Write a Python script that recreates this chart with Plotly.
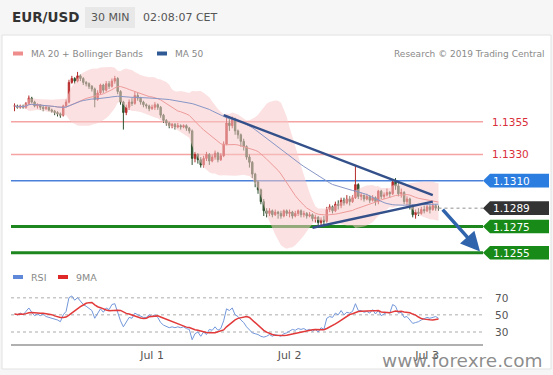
import pandas as pd
import numpy as np
import plotly.graph_objects as go

# ---------------- data ----------------
start_time = "2019-06-30 00:00"
base_price = 1.13
first_open_pips = 67
closes_pips = [67, 66, 67, 66, 69, 73, 70, 67, 68, 66, 65, 66, 64, 63, 62, 61, 60, 67, 70, 85,
               88, 86, 90, 88, 85, 84, 82, 80, 72, 77, 83, 79, 84, 82, 86, 88, 78, 70, 62, 66,
               70, 69, 75, 73, 70, 68, 67, 65, 66, 68, 66, 60, 56, 54, 52, 53, 51, 52, 51, 52,
               50, 48, 27, 30, 26, 22, 27, 30, 25, 28, 31, 26, 29, 38, 54, 52, 57, 48, 45, 40,
               36, 28, 24, 15, 9, 3, -6, -13, -15, -13, -16, -14, -15, -17, -13, -15, -14, -17, -15, -13,
               -16, -15, -17, -16, -19, -18, -22, -20, -21, -12, -10, -13, -8, -9, -5, -7, -4, -6, -3, 7,
               -2, -1, -4, -2, -5, -3, -6, 2, -2, -1, 1, 0, 9, 6, 0, 1, -6, -4, -10, -16,
               -14, -15, -12, -13, -10, -12, -9, -11, -11]
highs_pips = [69, 68, 68, 68, 70, 75, 74, 71, 69, 68, 67, 67, 66, 65, 64, 63, 62, 68, 72, 87,
              90, 89, 93, 91, 89, 86, 85, 83, 81, 79, 84, 84, 86, 86, 88, 90, 89, 79, 71, 68,
              72, 73, 78, 77, 74, 71, 69, 68, 68, 70, 69, 67, 61, 57, 55, 54, 54, 54, 53, 53,
              53, 51, 49, 32, 31, 28, 29, 32, 31, 30, 33, 32, 31, 40, 60, 57, 59, 58, 49, 46,
              42, 37, 30, 25, 16, 10, 4, -4, -11, -11, -12, -12, -13, -13, -12, -12, -12, -13, -13, -12,
              -12, -13, -14, -14, -15, -16, -17, -18, -17, -10, -8, -9, -6, -5, -3, -3, -1, -2, -1, 22,
              8, 1, -1, 0, -1, -1, -2, 3, 3, 1, 4, 2, 11, 12, 8, 4, 2, -2, -3, -8,
              -12, -11, -10, -9, -8, -8, -7, -8, -9]
lows_pips = [63, 65, 65, 65, 65, 68, 69, 66, 65, 64, 63, 64, 63, 62, 60, 59, 58, 59, 66, 69,
             84, 84, 85, 86, 83, 82, 80, 78, 66, 71, 76, 77, 78, 80, 81, 84, 76, 68, 49, 60,
             64, 67, 68, 71, 68, 66, 65, 63, 64, 64, 64, 58, 54, 52, 50, 50, 49, 50, 49, 50,
             48, 46, 22, 24, 23, 20, 20, 25, 22, 24, 26, 24, 25, 28, 37, 48, 50, 45, 42, 36,
             33, 26, 20, 12, 5, 0, -8, -17, -18, -17, -18, -17, -19, -19, -18, -17, -18, -19, -18, -17,
             -18, -18, -19, -18, -21, -22, -24, -25, -24, -22, -14, -15, -14, -12, -11, -9, -8, -9, -7, -4,
             -4, -5, -6, -5, -7, -6, -9, -8, -4, -4, -2, -3, -1, 3, -2, -3, -8, -9, -12, -18,
             -19, -17, -16, -15, -14, -15, -13, -13, -13]
rsi_values = [51, 50, 52, 50, 54, 58, 53, 49, 51, 49, 51, 48, 47, 46, 45, 44, 42, 50, 54, 70,
              72, 67, 70, 66, 62, 60, 57, 55, 46, 52, 57, 53, 58, 56, 62, 63, 52, 43, 36, 42,
              47, 46, 52, 50, 48, 47, 47, 50, 48, 50, 47, 41, 38, 36, 35, 36, 35, 36, 35, 36,
              34, 33, 21, 28, 30, 25, 30, 27, 33, 32, 36, 32, 34, 43, 57, 55, 58, 50, 48, 44,
              41, 36, 33, 29, 28, 27, 25, 24, 25, 27, 25, 27, 26, 25, 28, 29, 31, 33, 32, 34,
              33, 34, 32, 33, 31, 33, 30, 35, 33, 46, 48, 47, 52, 50, 55, 50, 53, 52, 54, 63,
              55, 55, 53, 54, 52, 56, 51, 55, 49, 51, 53, 52, 62, 60, 52, 53, 47, 48, 44, 40,
              41, 42, 44, 46, 47, 46, 47, 48, 46]

level_values = [1.1355, 1.1330, 1.1310, 1.1289, 1.1275, 1.1255]
level_labels = ["1.1355", "1.1330", "1.1310", "1.1289", "1.1275", "1.1255"]

upper_trend_times = ["2019-07-01 12:30", "2019-07-03 01:00"]
upper_trend_prices = [1.1360, 1.1299]
lower_trend_times = ["2019-07-02 04:00", "2019-07-03 01:00"]
lower_trend_prices = [1.1274, 1.1294]
arrow_times = ["2019-07-03 02:30", "2019-07-03 09:15"]
arrow_prices = [1.1289, 1.1256]

tick_dates = ["2019-07-01", "2019-07-02", "2019-07-03"]
tick_labels = ["Jul 1", "Jul 2", "Jul 3"]
rsi_levels = [70, 50, 30]
rsi_level_labels = ["70", "50", "30"]

x_range = ["2019-06-29 23:23", "2019-07-03 09:46"]
price_range = [1.1248, 1.1400]
rsi_range = [16, 85]

# ---------------- derived ----------------
W, H = 553, 375
times = pd.date_range(start_time, periods=len(closes_pips), freq="30min")
close = pd.Series([base_price + c / 10000 for c in closes_pips])
opens = [base_price + first_open_pips / 10000] + list(close.iloc[:-1])
highs = [base_price + h / 10000 for h in highs_pips]
lows = [base_price + l / 10000 for l in lows_pips]

ma20 = close.rolling(20, min_periods=1).mean()
sd20 = close.rolling(20, min_periods=1).std(ddof=0).fillna(0)
bb_up = ma20 + 2 * sd20
bb_lo = ma20 - 2 * sd20
ma50 = close.rolling(50, min_periods=1).mean()

rsi = pd.Series(rsi_values, dtype=float)
rsi_ma = rsi.rolling(9, min_periods=1).mean()


def px(x):
    return x / W


def py(y):
    return 1 - y / H


FONT = "DejaVu Sans"

fig = go.Figure()

# Bollinger band
fig.add_trace(go.Scatter(x=times, y=bb_up, mode="lines", line=dict(width=0, color="rgba(0,0,0,0)"),
                         hoverinfo="skip", showlegend=False))
fig.add_trace(go.Scatter(x=times, y=bb_lo, mode="lines", line=dict(width=0, color="rgba(0,0,0,0)"),
                         fill="tonexty", fillcolor="rgba(248,200,200,0.55)", hoverinfo="skip", showlegend=False))
fig.add_trace(go.Scatter(x=times, y=ma20, mode="lines", line=dict(width=1, color="#ee9a9a"), showlegend=False))
fig.add_trace(go.Scatter(x=times, y=ma50, mode="lines", line=dict(width=1, color="#8796c6"), showlegend=False))

fig.add_trace(go.Candlestick(
    x=times, open=opens, high=highs, low=lows, close=close,
    increasing=dict(line=dict(color="#b52a2a", width=1), fillcolor="#cf3030"),
    decreasing=dict(line=dict(color="#2d4f2d", width=1), fillcolor="#3c6a3c"),
    whiskerwidth=0, showlegend=False, xaxis="x", yaxis="y"))

# trendlines
for tt, pp in [(upper_trend_times, upper_trend_prices), (lower_trend_times, lower_trend_prices)]:
    fig.add_trace(go.Scatter(x=tt, y=pp, mode="lines", line=dict(width=2.5, color="#33508a"),
                             showlegend=False))

# RSI
fig.add_trace(go.Scatter(x=times, y=rsi, mode="lines", line=dict(width=1, color="#7397da"),
                         xaxis="x2", yaxis="y2", showlegend=False))
fig.add_trace(go.Scatter(x=times, y=rsi_ma, mode="lines", line=dict(width=1.5, color="#e23a3a"),
                         xaxis="x2", yaxis="y2", showlegend=False))

shapes = []
annotations = []

# background frame
shapes.append(dict(type="rect", xref="paper", yref="paper", x0=px(2), x1=px(551), y0=py(369), y1=py(35),
                   fillcolor="white", line=dict(color="#e2e2e2", width=1), layer="below"))
shapes.append(dict(type="rect", xref="paper", yref="paper", x0=px(85), x1=px(135), y0=py(28), y1=py(7),
                   fillcolor="#e8e8e8", line=dict(width=0), layer="below"))

# level lines
level_line_styles = [("#f5a3a3", 1.5), ("#f5a3a3", 1.5), ("#4a80d8", 1.5), None, ("#1e861e", 3), ("#1e861e", 3)]
for v, st in zip(level_values, level_line_styles):
    if st is None:
        shapes.append(dict(type="line", xref="x", yref="y", x0=times[-1], x1=x_range[1], y0=v, y1=v,
                           line=dict(color="#b5b5b5", width=1.5, dash="dot")))
    else:
        shapes.append(dict(type="line", xref="x domain", yref="y", x0=0, x1=1, y0=v, y1=v,
                           line=dict(color=st[0], width=st[1]), layer="below"))

# level labels
box_half = 0.00052
label_box_colors = [None, None, "#2b7de0", "#333333", "#178a17", "#178a17"]
for v, lab, bc in zip(level_values, level_labels, label_box_colors):
    if bc is None:
        annotations.append(dict(xref="paper", yref="y", x=px(510), y=v, text=lab, showarrow=False,
                                font=dict(family=FONT, size=10.5, color="#d9303a"), xanchor="center"))
    else:
        path = (f"M {px(483)},{v} L {px(490)},{v + box_half} L {px(549)},{v + box_half} "
                f"L {px(549)},{v - box_half} L {px(490)},{v - box_half} Z")
        shapes.append(dict(type="path", xref="paper", yref="y", path=path, fillcolor=bc,
                           line=dict(width=0)))
        annotations.append(dict(xref="paper", yref="y", x=px(511), y=v, text=lab, showarrow=False,
                                font=dict(family=FONT, size=10.5, color="white"), xanchor="center"))

# arrow
annotations.append(dict(xref="x", yref="y", axref="x", ayref="y", x=arrow_times[1], y=arrow_prices[1],
                        ax=arrow_times[0], ay=arrow_prices[0], text="", showarrow=True, arrowhead=2,
                        arrowsize=1.1, arrowwidth=3.5, arrowcolor="#2f63ab"))

# RSI dotted levels + labels
for lv, lt in zip(rsi_levels, rsi_level_labels):
    shapes.append(dict(type="line", xref="x2 domain", yref="y2", x0=0, x1=1, y0=lv, y1=lv,
                       line=dict(color="#c8c8c8", width=1.5, dash="dot"), layer="below"))
    annotations.append(dict(xref="paper", yref="y2", x=px(493), y=lv, text=lt, showarrow=False,
                            xanchor="left", font=dict(family=FONT, size=10.5, color="#555555")))

# legends
shapes.append(dict(type="rect", xref="paper", yref="paper", x0=px(13), x1=px(23), y0=py(55.5), y1=py(51.5),
                   fillcolor="#ef8c8c", line=dict(width=0)))
shapes.append(dict(type="rect", xref="paper", yref="paper", x0=px(157), x1=px(167), y0=py(55.5), y1=py(51.5),
                   fillcolor="#2f5a96", line=dict(width=0)))
shapes.append(dict(type="rect", xref="paper", yref="paper", x0=px(13), x1=px(23), y0=py(279), y1=py(275),
                   fillcolor="#5f88d8", line=dict(width=0)))
shapes.append(dict(type="rect", xref="paper", yref="paper", x0=px(58), x1=px(68), y0=py(279), y1=py(275),
                   fillcolor="#e02828", line=dict(width=0)))


def txt(x, y, s, size, color, anchor="left", bold=False):
    annotations.append(dict(xref="paper", yref="paper", x=px(x), y=py(y), text=(f"<b>{s}</b>" if bold else s),
                            showarrow=False, xanchor=anchor, yanchor="middle",
                            font=dict(family=FONT, size=size, color=color)))


txt(10, 17.5, "EUR/USD", 13.5, "#333333", bold=True)
txt(110, 17.5, "30 MIN", 11, "#555555", anchor="center")
txt(141, 17.5, "02:08:07 CET", 11, "#555555")
txt(29, 53.5, "MA 20 + Bollinger Bands", 9, "#888888")
txt(173, 53.5, "MA 50", 9, "#888888")
txt(546, 53.5, "Research © 2019 Trading Central", 9, "#8a8a8a", anchor="right")
txt(29, 277, "RSI", 9.5, "#888888")
txt(74, 277, "9MA", 9.5, "#888888")
txt(462, 360, "www.forexre.com", 18.5, "rgba(120,120,120,0.85)", anchor="center")

fig.update_layout(
    width=W, height=H, margin=dict(l=0, r=0, t=0, b=0),
    paper_bgcolor="#f6f6f6", plot_bgcolor="rgba(0,0,0,0)",
    showlegend=False, hovermode=False,
    shapes=shapes, annotations=annotations,
    xaxis=dict(domain=[px(11), px(483)], range=x_range, type="date", visible=False,
               rangeslider=dict(visible=False), anchor="y"),
    yaxis=dict(domain=[py(261.9), py(62.75)], range=price_range, visible=False, anchor="x"),
    xaxis2=dict(domain=[px(11), px(483)], range=x_range, type="date", anchor="y2", matches="x",
                showline=True, linecolor="#b0b0b0", linewidth=2, showgrid=False, zeroline=False,
                tickvals=tick_dates, ticktext=tick_labels, ticks="",
                tickfont=dict(family=FONT, size=11, color="#555555")),
    yaxis2=dict(domain=[py(344), py(284.8)], range=rsi_range, visible=False, anchor="x2"),
)

fig.write_html("out.html", config={"displayModeBar": False, "staticPlot": True},
               post_script="document.body.style.margin='0px';document.body.style.overflow='hidden';")
